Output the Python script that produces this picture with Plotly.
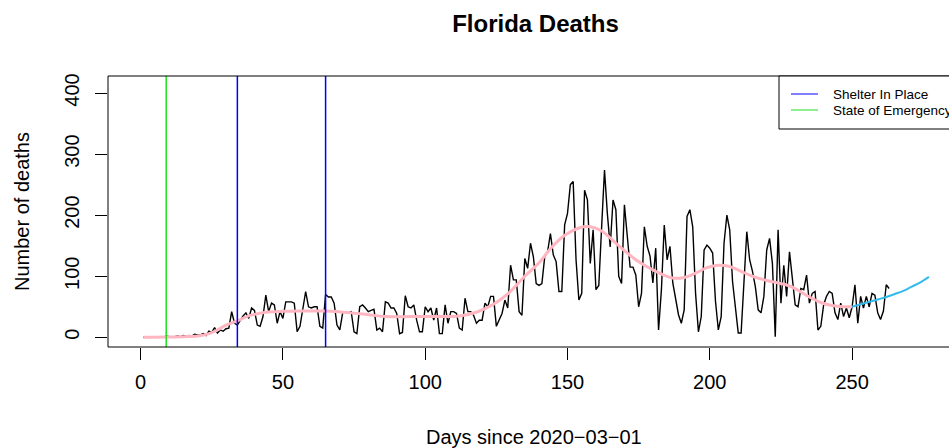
import plotly.graph_objects as go

# Daily deaths, day 1 .. day 263 (days since 2020-03-01)
deaths = [
    0, 0, 0, 1, 0, 0, 1, 0, 2, 1, 0, 1, 2, 1, 3, 2, 3, 2, 5, 4,
    4, 6, 3, 10, 8, 16, 7, 12, 10, 14, 15,
    42, 23, 20, 28, 35, 40, 31, 48, 44, 20, 18, 34, 69, 42, 56, 53, 23, 42, 31,
    58, 58, 58, 56, 9, 18,
    45, 75, 50, 48, 50, 50, 18, 15, 70, 66, 66, 56, 20, 12, 40, 42, 40, 42, 9, 6,
    50, 53, 48, 42, 44, 46, 12, 15, 9, 58,
    56, 48, 48, 39, 6, 8, 68, 50, 48, 53, 28, 9, 9, 50, 42, 48, 28, 48, 6, 6,
    53, 23, 42, 42, 39, 15, 12, 64, 42, 42, 36, 23, 28, 28, 56, 50, 67, 67, 18, 28,
    39, 61, 48, 118, 94, 94, 42, 36, 129, 113, 154, 132, 88, 85, 88, 132, 140, 170,
    135, 124, 75, 75, 184, 203, 250, 255, 127, 61, 72, 241, 225, 121, 176, 78, 85,
    181, 274, 203, 148, 225, 209, 100, 88, 217, 168, 115, 115, 102, 50,
    72, 181, 149, 133, 89, 146, 12, 78, 184, 127, 149, 89, 59, 37, 23, 45, 198, 209,
    181, 72, 9, 34, 143, 151, 146, 138, 59, 12, 34, 154, 200, 176, 91, 50, 7, 7,
    94, 173, 127, 108, 83, 45, 40, 67, 143, 162, 121, 1, 176, 56, 118, 67, 140, 99,
    53, 50, 80, 78, 102, 56, 72, 75, 12, 18, 53, 67, 75, 72, 40, 29, 56, 34, 48, 32,
    50, 86, 23, 67, 48, 67, 50, 72, 69, 40, 29, 43, 86, 80,
]
days = list(range(1, len(deaths) + 1))

# Smoothed trend
trend_days = [1, 10, 15, 20, 24, 27, 30, 34, 38, 44, 50, 56, 65, 74, 80, 86, 95,
              105, 112, 118, 124, 129, 135, 140, 144, 149, 154, 158, 162, 168,
              174, 181, 187, 191, 195, 199, 203, 207, 211, 215, 220, 224, 228,
              231, 235, 239, 243, 247, 250]
trend_vals = [0, 0.3, 1, 2, 6, 12, 20, 27, 35, 41, 42.5, 43, 43, 40, 37, 34, 34,
              34, 35, 41, 54, 71, 100, 122, 145, 167, 179, 181, 174, 150,
              127, 108, 97, 98, 105, 114, 118, 116, 108, 100, 93, 89, 84,
              77, 66, 57, 52, 50, 50]

# Projection beyond the trend
proj_days = [250, 253, 256, 259, 262, 265, 268, 271, 274, 277]
proj_vals = [50, 54, 58, 62, 66, 71, 76, 83, 90, 99]

# Policy dates
emergency_day = 9
shelter_days = [34, 65]

x_ticks = [0, 50, 100, 150, 200, 250]
y_ticks = [0, 100, 200, 300, 400]

FONT = "Liberation Sans, Arial, Helvetica, sans-serif"
GREEN = "#1ee01e"
BLUE = "#0000ff"

W, H = 949, 448
ML, MR, MT, MB = 108, 0, 76, 101
PW, PH = W - ML - MR, H - MT - MB


def px_x(p):
    return (p - ML) / PW


def px_y(p):
    return (H - MB - p) / PH


fig = go.Figure()

fig.add_trace(go.Scatter(x=days, y=deaths, mode="lines",
                         line=dict(color="black", width=1.4),
                         hoverinfo="skip", showlegend=False))
fig.add_trace(go.Scatter(x=trend_days, y=trend_vals, mode="lines",
                         line=dict(color="#ffb6c1", width=3, shape="spline",
                                   smoothing=1.0),
                         showlegend=False))
fig.add_trace(go.Scatter(x=proj_days, y=proj_vals, mode="lines",
                         line=dict(color="#33bbee", width=2, shape="spline"),
                         showlegend=False))

shapes = []
shapes.append(dict(type="line", xref="x", yref="paper", x0=emergency_day,
                   x1=emergency_day, y0=0, y1=1,
                   line=dict(color=GREEN, width=1.5)))
for d in shelter_days:
    shapes.append(dict(type="line", xref="x", yref="paper", x0=d, x1=d,
                       y0=0, y1=1, line=dict(color=BLUE, width=1.5)))

# plot frame (right side runs off the page)
shapes.append(dict(type="rect", xref="paper", yref="paper", x0=0, x1=1.1,
                   y0=0, y1=1, line=dict(color="black", width=1), layer="above"))

# legend box
shapes.append(dict(type="rect", xref="paper", yref="paper",
                   x0=px_x(779), x1=1.1, y0=px_y(129), y1=1,
                   line=dict(color="black", width=1), fillcolor="white",
                   layer="above"))
legend_items = [("Shelter In Place", BLUE, 94), ("State of Emergency", GREEN, 110)]
annotations = []
for label, col, ypix in legend_items:
    shapes.append(dict(type="line", xref="paper", yref="paper",
                       x0=px_x(791), x1=px_x(818), y0=px_y(ypix), y1=px_y(ypix),
                       line=dict(color=col, width=1), layer="above"))
    annotations.append(dict(text=label, xref="paper", yref="paper",
                            x=px_x(831), y=px_y(ypix), xanchor="left",
                            yanchor="middle", showarrow=False,
                            font=dict(family=FONT, size=13.5, color="black")))

# axis titles
annotations.append(dict(text="Days since 2020\u221203\u221201", xref="paper",
                        yref="paper", x=px_x(534), y=px_y(437),
                        xanchor="center", yanchor="middle", showarrow=False,
                        font=dict(family=FONT, size=20, color="black")))
annotations.append(dict(text="Number of deaths", xref="paper", yref="paper",
                        x=px_x(22), y=px_y(212), xanchor="center",
                        yanchor="middle", textangle=-90, showarrow=False,
                        font=dict(family=FONT, size=20, color="black")))

x0_px, per_day = 140.6, 2.846
y0_px, per_unit = 337.3, 0.6106

fig.update_layout(
    width=W, height=H,
    margin=dict(l=ML, r=MR, t=MT, b=MB),
    paper_bgcolor="white", plot_bgcolor="white",
    showlegend=False,
    title=dict(text="Florida Deaths", x=535.5 / W, xref="container",
               y=1 - 24 / H, yref="container", xanchor="center",
               yanchor="middle",
               font=dict(family=FONT, size=24, color="black", weight="bold")),
    shapes=shapes,
    annotations=annotations,
    xaxis=dict(range=[(ML - x0_px) / per_day, (W - x0_px) / per_day],
               tickvals=x_ticks, ticktext=[str(v) for v in x_ticks],
               ticks="outside", ticklen=12, tickcolor="black", tickwidth=1,
               showgrid=False, zeroline=False, showline=False,
               tickfont=dict(family=FONT, size=20, color="black"),
               ticklabelstandoff=5),
    yaxis=dict(range=[-(H - MB - y0_px) / per_unit, (y0_px - MT) / per_unit],
               tickvals=y_ticks, ticktext=[str(v) for v in y_ticks],
               ticks="outside", ticklen=12, tickcolor="black", tickwidth=1,
               tickangle=-90,
               showgrid=False, zeroline=False, showline=False,
               tickfont=dict(family=FONT, size=20, color="black"),
               ticklabelstandoff=8),
)

fig.write_html("out.html")
